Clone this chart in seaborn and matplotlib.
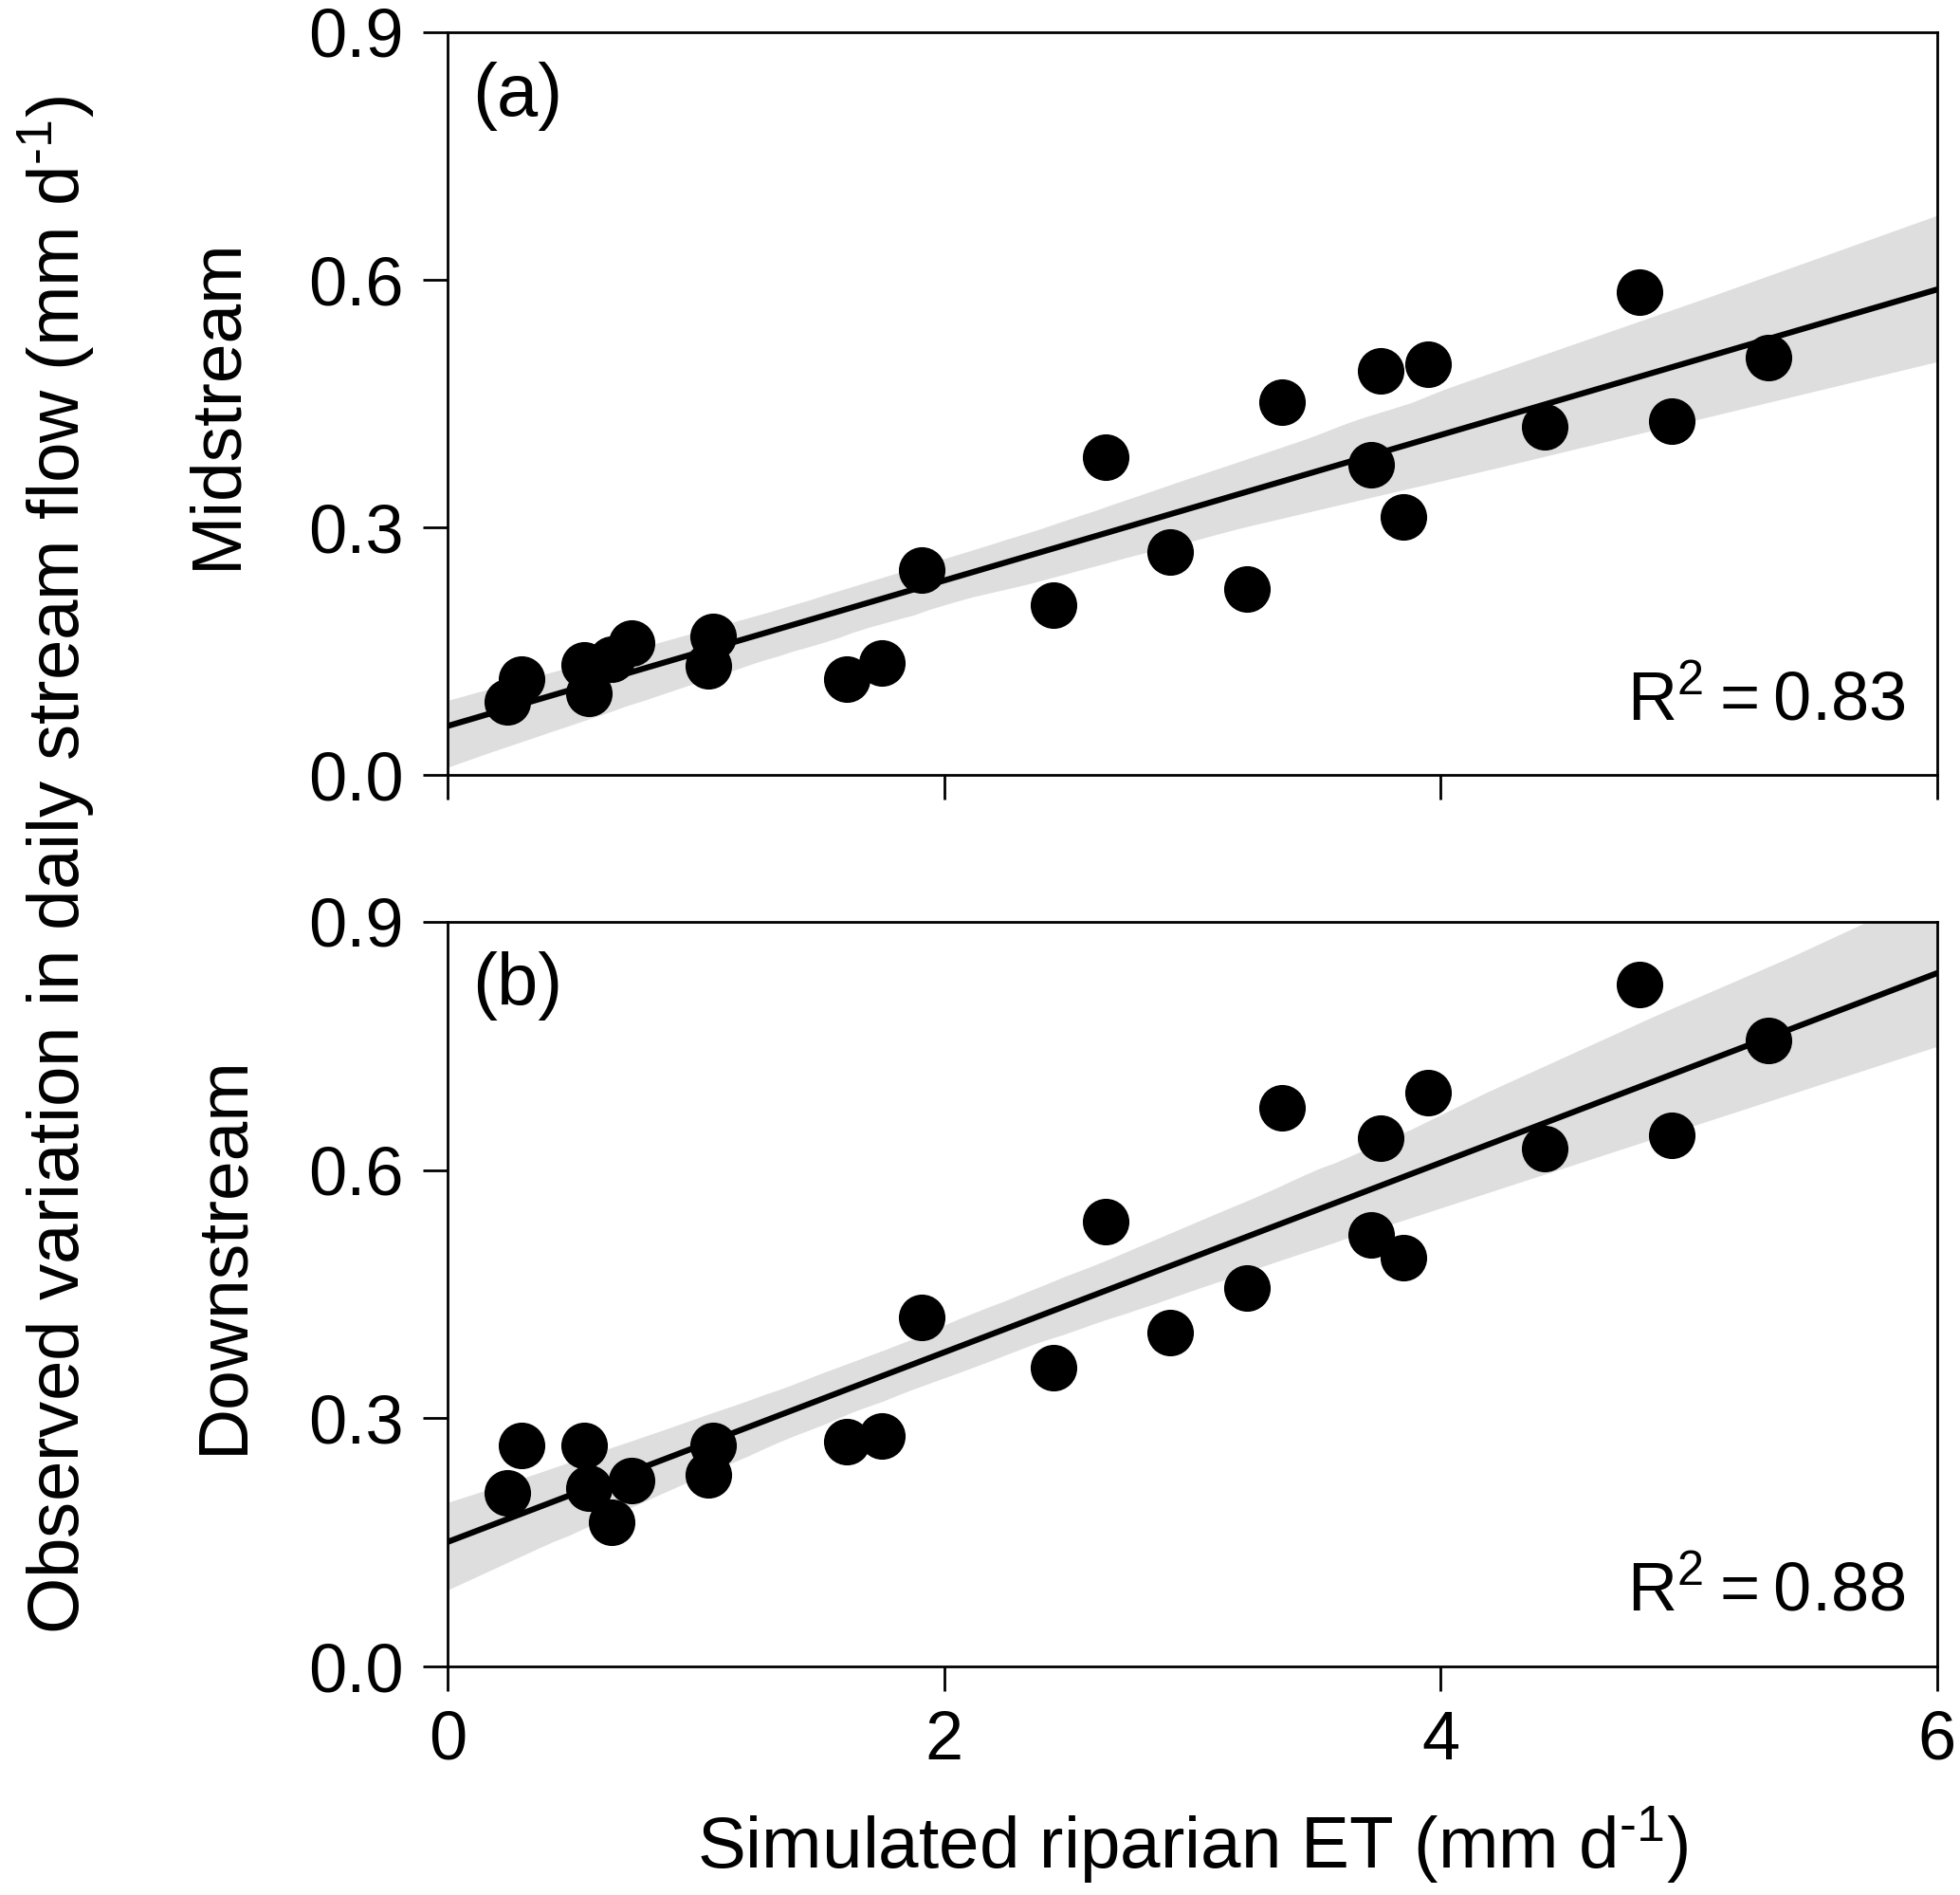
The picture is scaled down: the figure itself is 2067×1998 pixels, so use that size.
import numpy as np
import pandas as pd
import matplotlib
matplotlib.use('Agg')
import matplotlib.pyplot as plt
import seaborn as sns

# simulated riparian ET (mm d-1), same for both reaches
et = [0.24, 0.30, 0.55, 0.57, 0.66, 0.74, 1.07, 1.05, 1.61, 1.75, 1.91, 2.44, 2.65, 2.91,
      3.22, 3.36, 3.72, 3.76, 3.85, 3.95, 4.42, 4.80, 4.93, 5.32]
# observed variation in daily stream flow (mm d-1)
mid = [0.089, 0.116, 0.133, 0.099, 0.140, 0.160, 0.168, 0.132, 0.116, 0.136, 0.248, 0.206, 0.385, 0.270,
       0.226, 0.452, 0.376, 0.490, 0.313, 0.498, 0.422, 0.585, 0.429, 0.506]
down = [0.210, 0.267, 0.267, 0.215, 0.174, 0.225, 0.267, 0.232, 0.272, 0.278, 0.422, 0.361, 0.538, 0.404,
        0.457, 0.675, 0.522, 0.638, 0.494, 0.693, 0.626, 0.824, 0.642, 0.756]
panels = ['(a)', '(b)']
reaches = ['Midstream', 'Downstream']
r2 = ['0.83', '0.88']

df = pd.DataFrame({'et': et, 'Midstream': mid, 'Downstream': down})

sns.set_style('ticks')
plt.rcParams['font.family'] = ['Liberation Sans', 'DejaVu Sans']
plt.rcParams['mathtext.fontset'] = 'custom'
plt.rcParams['mathtext.rm'] = 'Liberation Sans'
plt.rcParams['mathtext.it'] = 'Liberation Sans:italic'
plt.rcParams['mathtext.bf'] = 'Liberation Sans:bold'
for k in ['text.color', 'axes.edgecolor', 'axes.labelcolor', 'xtick.color', 'ytick.color']:
    plt.rcParams[k] = 'black'

fig = plt.figure(figsize=(20.67, 19.98), dpi=100)
ax1 = fig.add_axes([0.2283, 0.591, 0.760, 0.392])
ax2 = fig.add_axes([0.2283, 0.1206, 0.760, 0.393])
label_pos = [(-0.1325, 0.5), (-0.128, 0.553)]

for ax, col, lab, r, lp in zip([ax1, ax2], reaches, panels, r2, label_pos):
    ax.set_xlim(0, 6)
    ax.set_ylim(0, 0.9)
    sns.regplot(data=df, x='et', y=col, ax=ax, truncate=False, ci=99, seed=3,
                scatter_kws={'s': 1250, 'color': 'black', 'alpha': 1, 'linewidths': 0, 'zorder': 3},
                line_kws={'color': 'black', 'lw': 4.5, 'zorder': 2})
    # CI band colour
    for c in ax.collections[1:]:
        c.set_facecolor('#dedede')
        c.set_alpha(1)
    ax.set_xlim(0, 6)
    ax.set_ylim(0, 0.9)
    ax.set_xticks([0, 2, 4, 6])
    ax.set_yticks([0.0, 0.3, 0.6, 0.9])
    ax.set_yticklabels(['0.0', '0.3', '0.6', '0.9'])
    ax.tick_params(direction='out', length=19, width=2, labelsize=52, pad=14)
    for s in ax.spines.values():
        s.set_linewidth(2)
    ax.set_xlabel('')
    ax.set_ylabel(col, fontsize=54)
    ax.yaxis.set_label_coords(*lp)
    ax.text(0.0166, 0.96, lab, transform=ax.transAxes, fontsize=56, va='top', ha='left')
    ax.text(0.979, 0.075, 'R$^2$\u2009=\u2009' + r, transform=ax.transAxes, fontsize=52,
            va='baseline', ha='right')

ax1.tick_params(axis='x', labelbottom=False)
ax2.set_xlabel('Simulated riparian ET (mm d$^{\\text{-1}}$)', fontsize=55, labelpad=24)
fig.text(0.029, 0.5435, 'Observed variation in daily stream flow (mm d$^{\\text{-1}}$)', rotation=90,
         fontsize=55, va='center', ha='center')

fig.savefig('out.png', dpi=100)
